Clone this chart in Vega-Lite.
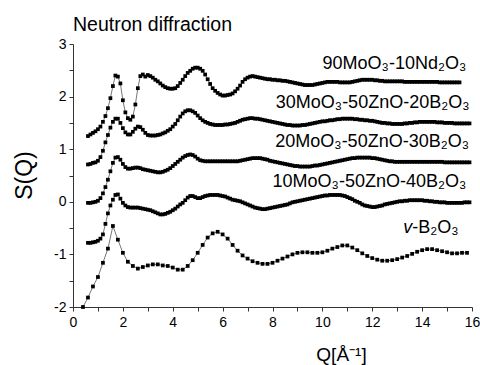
{
"$schema":"https://vega.github.io/schema/vega-lite/v6.json",
"width":399,"height":263,
"autosize":"none",
"padding":{"left":73,"top":44,"right":8,"bottom":58},
"title":{"text":"Neutron diffraction","anchor":"start","frame":"group","fontSize":19.5,"fontWeight":"normal","font":"Liberation Sans","color":"#000","dy":2},
"config":{"font":"Liberation Sans","view":{"stroke":null},"axis":{"grid":false,"domainColor":"#333","tickColor":"#333","labelColor":"#000","titleColor":"#000","labelFont":"Liberation Sans","titleFont":"Liberation Sans","titleFontWeight":"normal","labelOverlap":false}},
"datasets":{
"m":[
{"q":0.6,"A":1.25,"B":0.71,"C":-0.02,"D":-0.78},
{"q":0.7,"A":1.28,"B":0.72,"C":-0.02,"D":-0.78},
{"q":0.8,"A":1.31,"B":0.74,"C":-0.01,"D":-0.77},
{"q":0.9,"A":1.34,"B":0.75,"C":0.00,"D":-0.76},
{"q":1.0,"A":1.38,"B":0.78,"C":0.02,"D":-0.74},
{"q":1.1,"A":1.43,"B":0.85,"C":0.07,"D":-0.70},
{"q":1.2,"A":1.52,"B":0.97,"C":0.16,"D":-0.62},
{"q":1.3,"A":1.63,"B":1.13,"C":0.28,"D":-0.42},
{"q":1.4,"A":1.78,"B":1.27,"C":0.42,"D":-0.22},
{"q":1.5,"A":1.97,"B":1.41,"C":0.58,"D":-0.07},
{"q":1.6,"A":2.20,"B":1.52,"C":0.74,"D":0.04},
{"q":1.7,"A":2.40,"B":1.58,"C":0.84,"D":0.13},
{"q":1.8,"A":2.38,"B":1.58,"C":0.85,"D":0.14},
{"q":1.9,"A":2.25,"B":1.50,"C":0.80,"D":0.06},
{"q":2.0,"A":1.93,"B":1.40,"C":0.72,"D":-0.02},
{"q":2.1,"A":1.70,"B":1.32,"C":0.66,"D":-0.07},
{"q":2.2,"A":1.59,"B":1.28,"C":0.63,"D":-0.10},
{"q":2.3,"A":1.56,"B":1.28,"C":0.63,"D":-0.11},
{"q":2.4,"A":1.62,"B":1.33,"C":0.64,"D":-0.11},
{"q":2.5,"A":1.85,"B":1.39,"C":0.65,"D":-0.11},
{"q":2.6,"A":2.16,"B":1.43,"C":0.65,"D":-0.11},
{"q":2.7,"A":2.39,"B":1.42,"C":0.64,"D":-0.12},
{"q":2.8,"A":2.42,"B":1.37,"C":0.62,"D":-0.13},
{"q":2.9,"A":2.38,"B":1.31,"C":0.61,"D":-0.14},
{"q":3.0,"A":2.41,"B":1.27,"C":0.60,"D":-0.15},
{"q":3.1,"A":2.39,"B":1.26,"C":0.59,"D":-0.16},
{"q":3.2,"A":2.36,"B":1.26,"C":0.58,"D":-0.18},
{"q":3.3,"A":2.32,"B":1.26,"C":0.57,"D":-0.20},
{"q":3.4,"A":2.29,"B":1.27,"C":0.56,"D":-0.22},
{"q":3.5,"A":2.25,"B":1.28,"C":0.56,"D":-0.24},
{"q":3.6,"A":2.21,"B":1.30,"C":0.57,"D":-0.24},
{"q":3.7,"A":2.18,"B":1.32,"C":0.59,"D":-0.23},
{"q":3.8,"A":2.16,"B":1.35,"C":0.61,"D":-0.21},
{"q":3.9,"A":2.15,"B":1.38,"C":0.64,"D":-0.19},
{"q":4.0,"A":2.15,"B":1.43,"C":0.68,"D":-0.16},
{"q":4.1,"A":2.16,"B":1.48,"C":0.72,"D":-0.13},
{"q":4.2,"A":2.20,"B":1.55,"C":0.76,"D":-0.09},
{"q":4.3,"A":2.26,"B":1.62,"C":0.80,"D":-0.05},
{"q":4.4,"A":2.32,"B":1.68,"C":0.84,"D":-0.02},
{"q":4.5,"A":2.39,"B":1.72,"C":0.87,"D":0.03},
{"q":4.6,"A":2.45,"B":1.74,"C":0.89,"D":0.08},
{"q":4.7,"A":2.49,"B":1.74,"C":0.90,"D":0.11},
{"q":4.8,"A":2.53,"B":1.72,"C":0.89,"D":0.11},
{"q":4.9,"A":2.55,"B":1.69,"C":0.86,"D":0.09},
{"q":5.0,"A":2.55,"B":1.64,"C":0.82,"D":0.07},
{"q":5.1,"A":2.53,"B":1.59,"C":0.79,"D":0.07},
{"q":5.2,"A":2.49,"B":1.55,"C":0.78,"D":0.09},
{"q":5.3,"A":2.42,"B":1.52,"C":0.77,"D":0.11},
{"q":5.4,"A":2.33,"B":1.50,"C":0.77,"D":0.12},
{"q":5.5,"A":2.24,"B":1.48,"C":0.77,"D":0.13},
{"q":5.6,"A":2.16,"B":1.47,"C":0.77,"D":0.13},
{"q":5.7,"A":2.11,"B":1.46,"C":0.77,"D":0.13},
{"q":5.8,"A":2.07,"B":1.46,"C":0.77,"D":0.13},
{"q":5.9,"A":2.04,"B":1.46,"C":0.77,"D":0.12},
{"q":6.0,"A":2.02,"B":1.46,"C":0.77,"D":0.11},
{"q":6.1,"A":2.02,"B":1.47,"C":0.77,"D":0.10},
{"q":6.2,"A":2.03,"B":1.47,"C":0.77,"D":0.08},
{"q":6.3,"A":2.04,"B":1.48,"C":0.77,"D":0.06},
{"q":6.4,"A":2.06,"B":1.49,"C":0.77,"D":0.04},
{"q":6.5,"A":2.10,"B":1.50,"C":0.77,"D":0.03},
{"q":6.6,"A":2.15,"B":1.52,"C":0.77,"D":0.02},
{"q":6.7,"A":2.21,"B":1.54,"C":0.78,"D":0.01},
{"q":6.8,"A":2.28,"B":1.56,"C":0.79,"D":-0.01},
{"q":6.9,"A":2.33,"B":1.57,"C":0.80,"D":-0.03},
{"q":7.0,"A":2.36,"B":1.58,"C":0.81,"D":-0.05},
{"q":7.1,"A":2.38,"B":1.59,"C":0.82,"D":-0.07},
{"q":7.2,"A":2.39,"B":1.59,"C":0.83,"D":-0.09},
{"q":7.3,"A":2.38,"B":1.58,"C":0.83,"D":-0.11},
{"q":7.4,"A":2.37,"B":1.58,"C":0.83,"D":-0.12},
{"q":7.5,"A":2.36,"B":1.57,"C":0.83,"D":-0.13},
{"q":7.6,"A":2.35,"B":1.56,"C":0.82,"D":-0.14},
{"q":7.7,"A":2.34,"B":1.55,"C":0.81,"D":-0.14},
{"q":7.8,"A":2.33,"B":1.54,"C":0.80,"D":-0.13},
{"q":7.9,"A":2.33,"B":1.53,"C":0.78,"D":-0.12},
{"q":8.0,"A":2.32,"B":1.52,"C":0.77,"D":-0.11},
{"q":8.1,"A":2.32,"B":1.51,"C":0.76,"D":-0.10},
{"q":8.2,"A":2.31,"B":1.50,"C":0.75,"D":-0.09},
{"q":8.3,"A":2.31,"B":1.49,"C":0.74,"D":-0.08},
{"q":8.4,"A":2.30,"B":1.48,"C":0.73,"D":-0.07},
{"q":8.5,"A":2.30,"B":1.47,"C":0.72,"D":-0.06},
{"q":8.6,"A":2.29,"B":1.46,"C":0.71,"D":-0.05},
{"q":8.7,"A":2.28,"B":1.46,"C":0.70,"D":-0.03},
{"q":8.8,"A":2.27,"B":1.45,"C":0.69,"D":-0.01},
{"q":8.9,"A":2.26,"B":1.45,"C":0.68,"D":0.00},
{"q":9.0,"A":2.25,"B":1.45,"C":0.68,"D":0.01},
{"q":9.1,"A":2.24,"B":1.45,"C":0.67,"D":0.02},
{"q":9.2,"A":2.23,"B":1.46,"C":0.67,"D":0.03},
{"q":9.3,"A":2.22,"B":1.46,"C":0.67,"D":0.04},
{"q":9.4,"A":2.22,"B":1.47,"C":0.67,"D":0.05},
{"q":9.5,"A":2.22,"B":1.48,"C":0.67,"D":0.06},
{"q":9.6,"A":2.22,"B":1.49,"C":0.68,"D":0.07},
{"q":9.7,"A":2.23,"B":1.50,"C":0.69,"D":0.08},
{"q":9.8,"A":2.24,"B":1.51,"C":0.69,"D":0.09},
{"q":9.9,"A":2.25,"B":1.52,"C":0.70,"D":0.10},
{"q":10.0,"A":2.26,"B":1.53,"C":0.71,"D":0.11},
{"q":10.1,"A":2.27,"B":1.53,"C":0.72,"D":0.12},
{"q":10.2,"A":2.28,"B":1.54,"C":0.73,"D":0.12},
{"q":10.3,"A":2.28,"B":1.55,"C":0.74,"D":0.13},
{"q":10.4,"A":2.28,"B":1.55,"C":0.75,"D":0.13},
{"q":10.5,"A":2.28,"B":1.56,"C":0.76,"D":0.13},
{"q":10.6,"A":2.28,"B":1.57,"C":0.77,"D":0.13},
{"q":10.7,"A":2.27,"B":1.57,"C":0.78,"D":0.13},
{"q":10.8,"A":2.27,"B":1.58,"C":0.79,"D":0.12},
{"q":10.9,"A":2.27,"B":1.58,"C":0.80,"D":0.11},
{"q":11.0,"A":2.27,"B":1.58,"C":0.81,"D":0.09},
{"q":11.1,"A":2.27,"B":1.58,"C":0.82,"D":0.07},
{"q":11.2,"A":2.28,"B":1.58,"C":0.83,"D":0.05},
{"q":11.3,"A":2.29,"B":1.57,"C":0.83,"D":0.02},
{"q":11.4,"A":2.30,"B":1.57,"C":0.84,"D":0.00},
{"q":11.5,"A":2.31,"B":1.56,"C":0.84,"D":-0.02},
{"q":11.6,"A":2.32,"B":1.56,"C":0.84,"D":-0.05},
{"q":11.7,"A":2.32,"B":1.55,"C":0.84,"D":-0.07},
{"q":11.8,"A":2.32,"B":1.55,"C":0.84,"D":-0.08},
{"q":11.9,"A":2.32,"B":1.54,"C":0.84,"D":-0.09},
{"q":12.0,"A":2.32,"B":1.54,"C":0.83,"D":-0.10},
{"q":12.1,"A":2.31,"B":1.53,"C":0.83,"D":-0.10},
{"q":12.2,"A":2.31,"B":1.52,"C":0.82,"D":-0.09},
{"q":12.3,"A":2.30,"B":1.51,"C":0.81,"D":-0.08},
{"q":12.4,"A":2.30,"B":1.50,"C":0.80,"D":-0.07},
{"q":12.5,"A":2.29,"B":1.50,"C":0.79,"D":-0.05},
{"q":12.6,"A":2.29,"B":1.49,"C":0.78,"D":-0.04},
{"q":12.7,"A":2.29,"B":1.49,"C":0.77,"D":-0.03},
{"q":12.8,"A":2.29,"B":1.48,"C":0.77,"D":-0.02},
{"q":12.9,"A":2.29,"B":1.48,"C":0.76,"D":-0.01},
{"q":13.0,"A":2.29,"B":1.48,"C":0.76,"D":0.00},
{"q":13.1,"A":2.29,"B":1.48,"C":0.76,"D":0.01},
{"q":13.2,"A":2.29,"B":1.48,"C":0.76,"D":0.01},
{"q":13.3,"A":2.28,"B":1.49,"C":0.76,"D":0.02},
{"q":13.4,"A":2.28,"B":1.49,"C":0.76,"D":0.02},
{"q":13.5,"A":2.28,"B":1.50,"C":0.76,"D":0.03},
{"q":13.6,"A":2.28,"B":1.50,"C":0.76,"D":0.03},
{"q":13.7,"A":2.28,"B":1.51,"C":0.76,"D":0.03},
{"q":13.8,"A":2.28,"B":1.51,"C":0.76,"D":0.03},
{"q":13.9,"A":2.28,"B":1.52,"C":0.76,"D":0.03},
{"q":14.0,"A":2.28,"B":1.52,"C":0.76,"D":0.03},
{"q":14.1,"A":2.28,"B":1.52,"C":0.76,"D":0.02},
{"q":14.2,"A":2.28,"B":1.52,"C":0.76,"D":0.02},
{"q":14.3,"A":2.28,"B":1.52,"C":0.76,"D":0.01},
{"q":14.4,"A":2.28,"B":1.52,"C":0.76,"D":0.01},
{"q":14.5,"A":2.28,"B":1.52,"C":0.76,"D":0.00},
{"q":14.6,"A":2.28,"B":1.51,"C":0.76,"D":0.00},
{"q":14.7,"A":2.27,"B":1.51,"C":0.76,"D":-0.01},
{"q":14.8,"A":2.27,"B":1.51,"C":0.76,"D":-0.01},
{"q":14.9,"A":2.27,"B":1.50,"C":0.75,"D":-0.01},
{"q":15.0,"A":2.27,"B":1.50,"C":0.75,"D":-0.02},
{"q":15.1,"A":2.27,"B":1.50,"C":0.75,"D":-0.02},
{"q":15.2,"A":2.27,"B":1.50,"C":0.75,"D":-0.02},
{"q":15.3,"A":2.27,"B":1.49,"C":0.75,"D":-0.02},
{"q":15.4,"A":2.27,"B":1.49,"C":0.75,"D":-0.02},
{"q":15.5,"A":2.27,"B":1.49,"C":0.75,"D":-0.02},
{"q":15.6,"B":1.49,"C":0.75,"D":-0.02},
{"q":15.7,"B":1.49,"C":0.75,"D":-0.01},
{"q":15.8,"B":1.49,"C":0.75,"D":-0.01},
{"q":15.9,"B":1.49,"C":0.75,"D":-0.01}
],
"e":[
{"q":0.4,"s":-2.0},{"q":0.6,"s":-1.82},{"q":0.8,"s":-1.61},{"q":1.0,"s":-1.43},{"q":1.2,"s":-1.16},{"q":1.4,"s":-0.89},{"q":1.6,"s":-0.46},{"q":1.8,"s":-0.72},{"q":2.0,"s":-0.97},{"q":2.2,"s":-1.14},{"q":2.4,"s":-1.22},{"q":2.6,"s":-1.27},{"q":2.8,"s":-1.24},{"q":3.0,"s":-1.21},{"q":3.2,"s":-1.19},{"q":3.4,"s":-1.19},{"q":3.6,"s":-1.21},{"q":3.8,"s":-1.22},{"q":4.0,"s":-1.25},{"q":4.2,"s":-1.29},{"q":4.4,"s":-1.29},{"q":4.6,"s":-1.22},{"q":4.8,"s":-1.11},{"q":5.0,"s":-0.97},{"q":5.2,"s":-0.82},{"q":5.4,"s":-0.68},{"q":5.6,"s":-0.60},{"q":5.8,"s":-0.57},{"q":6.0,"s":-0.62},{"q":6.2,"s":-0.70},{"q":6.4,"s":-0.82},{"q":6.6,"s":-0.93},{"q":6.8,"s":-1.02},{"q":7.0,"s":-1.08},{"q":7.2,"s":-1.13},{"q":7.4,"s":-1.16},{"q":7.6,"s":-1.18},{"q":7.8,"s":-1.18},{"q":8.0,"s":-1.16},{"q":8.2,"s":-1.12},{"q":8.4,"s":-1.08},{"q":8.6,"s":-1.04},{"q":8.8,"s":-1.0},{"q":9.0,"s":-0.97},{"q":9.2,"s":-0.96},{"q":9.4,"s":-0.96},{"q":9.6,"s":-0.97},{"q":9.8,"s":-0.97},{"q":10.0,"s":-0.96},{"q":10.2,"s":-0.93},{"q":10.4,"s":-0.89},{"q":10.6,"s":-0.86},{"q":10.8,"s":-0.83},{"q":11.0,"s":-0.83},{"q":11.2,"s":-0.87},{"q":11.4,"s":-0.92},{"q":11.6,"s":-0.98},{"q":11.8,"s":-1.03},{"q":12.0,"s":-1.07},{"q":12.2,"s":-1.10},{"q":12.4,"s":-1.12},{"q":12.6,"s":-1.12},{"q":12.8,"s":-1.11},{"q":13.0,"s":-1.09},{"q":13.2,"s":-1.06},{"q":13.4,"s":-1.03},{"q":13.6,"s":-0.99},{"q":13.8,"s":-0.95},{"q":14.0,"s":-0.92},{"q":14.2,"s":-0.90},{"q":14.4,"s":-0.90},{"q":14.6,"s":-0.92},{"q":14.8,"s":-0.94},{"q":15.0,"s":-0.96},{"q":15.2,"s":-0.98},{"q":15.4,"s":-0.98},{"q":15.6,"s":-0.97},{"q":15.8,"s":-0.97}
],
"lab":[
{"q":15.77,"s":2.53,"t":"90MoO₃-10Nd₂O₃"},
{"q":15.9,"s":1.78,"t":"30MoO₃-50ZnO-20B₂O₃"},
{"q":15.88,"s":1.05,"t":"20MoO₃-50ZnO-30B₂O₃"},
{"q":15.77,"s":0.29,"t":"10MoO₃-50ZnO-40B₂O₃"}
],
"lb":[{"q":13.6,"s":-0.59,"t":"-B₂O₃"}],
"lv":[{"q":13.6,"s":-0.59,"t":"v"}]
},
"encoding":{
"x":{"field":"q","type":"quantitative","scale":{"domain":[0,16],"nice":false,"zero":false},
"axis":{"values":[0,1,2,3,4,5,6,7,8,9,10,11,12,13,14,15,16],"labelExpr":"datum.value % 2 == 0 ? datum.label : ''","tickSize":4,"labelPadding":4,"labelFontSize":14,"labelFlush":false,"title":"Q[Å⁻¹]","titleFontSize":19,"titleX":268,"titleY":53,"titleBaseline":"alphabetic","titleAlign":"center"}},
"y":{"field":"s","type":"quantitative","scale":{"domain":[-2,3],"nice":false,"zero":false},
"axis":{"values":[-2,-1.5,-1,-0.5,0,0.5,1,1.5,2,2.5,3],"labelExpr":"datum.value % 1 == 0 ? '' + datum.value : ''","tickSize":4,"labelPadding":3,"labelFontSize":14,"labelFlush":false,"title":"S(Q)","titleFontSize":23,"titleX":-42,"titleY":131,"titleBaseline":"alphabetic","titleAlign":"center"}}
},
"layer":[
{"data":{"name":"m"},"transform":[{"fold":["A","B","C","D"],"as":["k","s"]}],
 "mark":{"type":"line","color":"#777","strokeWidth":1},"encoding":{"detail":{"field":"k","type":"nominal"}}},
{"data":{"name":"m"},"transform":[{"fold":["A","B","C","D"],"as":["k","s"]}],
 "mark":{"type":"point","shape":"square","filled":true,"size":14,"color":"#000","opacity":1},"encoding":{"detail":{"field":"k","type":"nominal"}}},
{"data":{"name":"e"},"mark":{"type":"line","color":"#777","strokeWidth":1},"encoding":{}},
{"data":{"name":"e"},"mark":{"type":"point","shape":"square","filled":true,"size":14,"color":"#000","opacity":1},"encoding":{}},
{"data":{"name":"lab"},"mark":{"type":"text","align":"right","baseline":"alphabetic","fontSize":18,"font":"Liberation Sans","color":"#000"},"encoding":{"text":{"field":"t"}}},
{"data":{"name":"lb"},"mark":{"type":"text","align":"left","baseline":"alphabetic","fontSize":18,"font":"Liberation Sans","color":"#000"},"encoding":{"text":{"field":"t"}}},
{"data":{"name":"lv"},"mark":{"type":"text","align":"right","baseline":"alphabetic","fontSize":18,"font":"Liberation Sans","fontStyle":"italic","color":"#000"},"encoding":{"text":{"field":"t"}}}
]
}
